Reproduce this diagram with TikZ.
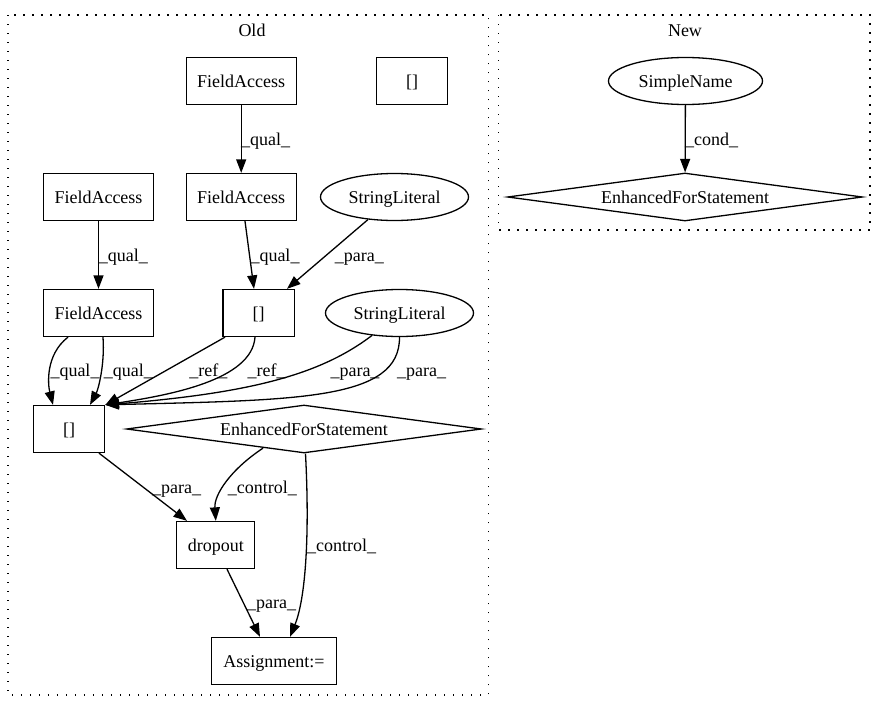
\documentclass[tikz,border=0pt]{standalone}
\usepackage{fontspec}
\setmainfont{Liberation Serif}
\usetikzlibrary{shapes.geometric,arrows.meta}
\begin{document}
\begin{tikzpicture}[x=1pt,y=-1pt,
  every node/.style={font=\fontsize{18}{20}\selectfont, inner sep=0pt},
  box/.style={draw, line width=1.3pt, rectangle, minimum height=47pt, text height=12.2pt, text depth=0pt},
  ell/.style={draw, line width=1.3pt, ellipse, minimum height=47pt, text height=12.2pt, text depth=0pt},
  dia/.style={draw, line width=1.3pt, diamond, aspect=8, minimum height=48pt, minimum width=355pt, text height=12.2pt, text depth=0pt},
  edge/.style={line width=1.3pt, -{Triangle[length=13.5pt,width=10pt]}},
  lbl/.style={anchor=base, yshift=-6pt},
  cluster/.style={line width=1.3pt, dash pattern=on 1.3pt off 7.7pt}
]
\useasboundingbox (0,0) rectangle (887,712);
% clusters
\draw[cluster] (8,15) rectangle (488.3,695);
\draw[cluster] (498.3,15) rectangle (870,230);
\node (told) at (252,30) {Old};
\node (tnew) at (685,31) {New};
% Old nodes
\node[box, minimum width=110pt] (fa1) at (241.2,81) {FieldAccess};
\node[box, minimum width=71.5pt] (br0) at (412,81) {[]};
\node[box, minimum width=110.5pt] (fa2) at (98.5,197) {FieldAccess};
\node[box, minimum width=110pt] (fa3) at (241.2,197) {FieldAccess};
\node[ell, minimum width=148pt] (sl1) at (394.5,197) {StringLiteral};
\node[box, minimum width=110.5pt] (fa4) at (98.5,313) {FieldAccess};
\node[box, minimum width=71.5pt] (br1) at (258.7,313) {[]};
\node[ell, minimum width=148pt] (sl2) at (399.5,313) {StringLiteral};
\node[box, minimum width=71.5pt] (br2) at (69,429) {[]};
\node[dia] (efs) at (304,429) {EnhancedForStatement};
\node[box, minimum width=78pt] (drop) at (215.8,545) {dropout};
\node[box, minimum width=124.5pt] (asg) at (274,661) {Assignment:=};
% New nodes
\node[ell, minimum width=154pt] (sn) at (685.5,81) {SimpleName};
\node[dia] (efs2) at (685,197) {EnhancedForStatement};
% Old edges
\draw[edge] (fa1) -- (fa3);
\draw[edge] (fa2) -- (fa4);
\draw[edge] ([xshift=3.8pt]fa3.south) -- ([xshift=-4.7pt]br1.north);
\draw[edge] ([xshift=-26.5pt,yshift=1.6pt]sl1.south) -- ([xshift=28.3pt]br1.north);
\draw[edge] ([xshift=-30.5pt]fa4.south) .. controls (45,355) and (48,385) .. ([xshift=-16pt]br2.north);
\draw[edge] ([xshift=4.5pt]fa4.south) .. controls (105,365) and (98,390) .. ([xshift=21pt]br2.north);
\draw[edge] ([xshift=-33.7pt]br1.south) -- (br2.north east);
\draw[edge] ([xshift=-3.7pt]br1.south) .. controls (252,380) and (170,395) .. (br2.north east);
\draw[edge] ([xshift=-27.5pt,yshift=1.7pt]sl2.south) .. controls (320,375) and (250,393) .. (br2.north east);
\draw[edge] (sl2.south) .. controls (400,400) and (300,400) .. (br2.north east);
\draw[edge] ([xshift=30pt]br2.south) -- ([xshift=-28.8pt]drop.north);
\draw[edge] ([xshift=-41pt,yshift=5.5pt]efs.south) .. controls (230,470) and (214,495) .. (drop.north);
\draw[edge] ([xshift=1.5pt]efs.south) .. controls (310,540) and (305,600) .. ([xshift=16pt]asg.north);
\draw[edge] ([xshift=11.2pt]drop.south) -- ([xshift=-14pt]asg.north);
% New edge
\draw[edge] (sn) -- (efs2);
% labels
\node[lbl] (l1) at (265.7,139.3) {\_qual\_};
\node[lbl] (l2) at (123.3,255) {\_qual\_};
\node[lbl] (l3) at (275,255) {\_qual\_};
\node[lbl] (l4) at (359.3,255) {\_para\_};
\node[lbl] (l5) at (75,370) {\_qual\_};
\node[lbl] (l6) at (128.3,370) {\_qual\_};
\node[lbl] (l7) at (208.3,370) {\_ref\_};
\node[lbl] (l8) at (266.7,370) {\_ref\_};
\node[lbl] (l9) at (355,370) {\_para\_};
\node[lbl] (l10) at (421.7,370) {\_para\_};
\node[lbl] (l11) at (176.7,487.3) {\_para\_};
\node[lbl] (l12) at (262.3,487.3) {\_control\_};
\node[lbl] (l13) at (341.7,545) {\_control\_};
\node[lbl] (l14) at (271.7,602.7) {\_para\_};
\node[lbl] (l15) at (711.7,139.3) {\_cond\_};
\end{tikzpicture}
\end{document}
